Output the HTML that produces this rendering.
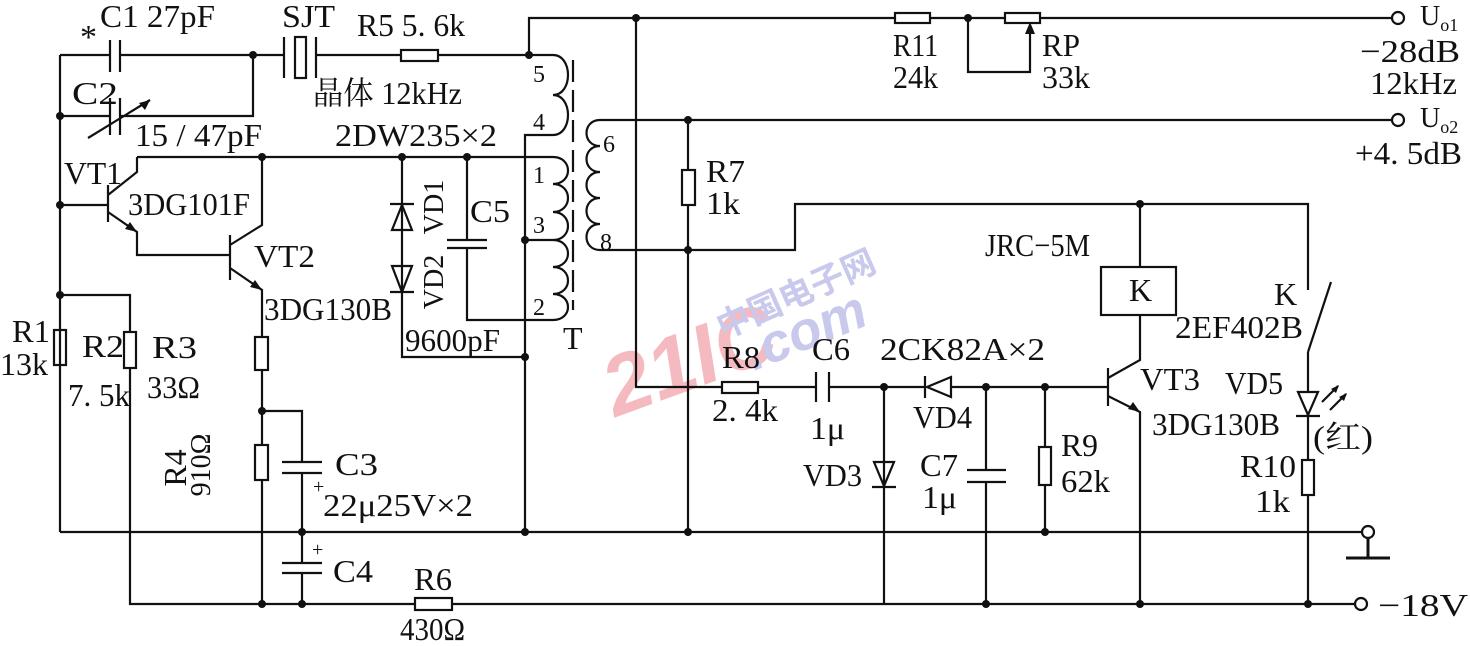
<!DOCTYPE html>
<html><head><meta charset="utf-8"><style>
html,body{margin:0;padding:0;background:#fff;}
svg{display:block;}
text{font-family:"Liberation Serif","Noto Serif CJK SC",serif;font-size:32px;fill:#111;}
</style></head><body>
<svg width="1470" height="646" viewBox="0 0 1470 646" xmlns="http://www.w3.org/2000/svg">
<rect width="1470" height="646" fill="#fff"/>
<g opacity="0.75">
<text x="598" y="402" transform="rotate(-20 650 360)" style="font-family:'Liberation Sans',sans-serif;font-size:84px;font-weight:bold;fill:#f2a4ac;font-style:italic">21IC</text>
<text x="708" y="312" transform="rotate(-24 780 290)" style="font-family:'Noto Sans CJK SC',sans-serif;font-size:34px;font-weight:bold;fill:#b6b8e6">中国电子网</text>
<text x="738" y="350" transform="rotate(-22 800 320)" style="font-family:'Liberation Sans',sans-serif;font-size:54px;font-weight:bold;font-style:italic;fill:#b6b8e6">.com</text>
</g>
<g stroke="#111" stroke-width="2.2" fill="none">
<path d="M60 55 V532 M60 55 H110 M120 55 H284 M316 55 H401 M438 55 H529 V18 H895 M930 18 H1005 M1040 18 H1392"/>
<path d="M110 40 V72 M120 40 V72"/>
<path d="M60 116 H110 M120 116 H253 V55 M110 98 V135 M120 98 V135 M88 138 L150 100"/>
<path d="M284 37 V78 M316 37 V78"/><rect x="295" y="37" width="11" height="41"/>
<rect x="401" y="50" width="37" height="11"/>
<rect x="895" y="13" width="35" height="10"/><rect x="1005" y="13" width="35" height="10"/>
<path d="M968 18 V72 H1030 V28"/>
<path d="M529 55 H553 c20 0 20 40 0 40 c20 0 20 40 0 40 H525 V532"/>
<path d="M573 60 V310" stroke-dasharray="22 8"/>
<path d="M137 157 H553 c20 0 20 27 0 27 c20 0 20 28 0 28 c20 0 20 28 0 28 c20 0 20 27 0 27 c20 0 20 27 0 27 c20 0 20 26 0 26 H467 V248 M467 240 V157"/>
<path d="M447 240 H487 M447 248 H487"/>
<path d="M525 240 H553"/>
<path d="M1392 120 H600 c-18 0 -18 26 0 26 c-18 0 -18 26 0 26 c-18 0 -18 26 0 26 c-18 0 -18 26 0 26 c-18 0 -18 26 0 26 H795 V204 H1308 V290 M1308 352 V604 M1308 352 L1331 282"/>
<path d="M108 185 V222 M60 205 H108 M108 195 L137 172 V157 M108 212 L137 232 V255 H230"/>
<path d="M230 235 V280 M230 245 L262 225 V157 M230 268 L262 290 V337 M262 370 V445 M262 480 V604 M262 411 H302 V462 M302 473 V563 M302 573 V604"/>
<rect x="255" y="337" width="13" height="33"/><rect x="255" y="445" width="13" height="35"/>
<path d="M282 462 H322 M282 473 H322 M282 563 H322 M282 573 H322"/>
<path d="M60 295 H130 V332 M130 368 V604 H415 M452 604 H1355"/>
<rect x="54" y="330" width="12" height="35"/><rect x="124" y="332" width="12" height="36"/>
<rect x="415" y="598" width="37" height="12"/>
<path d="M402 157 V357 H525"/>
<path d="M60 532 H1362"/>
<path d="M636 18 V387 H722 M758 387 H816 M829 387 H925 M951 387 H1108"/>
<path d="M688 120 V170 M688 205 V532"/><rect x="682" y="170" width="13" height="35"/>
<rect x="722" y="382" width="36" height="11"/>
<path d="M816 372 V402 M829 372 V402"/>
<path d="M884 387 V604 M986 387 V470 M986 482 V604 M967 470 H1006 M967 482 H1006 M1045 387 V447 M1045 485 V532"/>
<rect x="1039" y="447" width="12" height="38"/>
<rect x="1101" y="267" width="75" height="48"/>
<path d="M1140 204 V267 M1140 315 V360 L1108 378 M1108 368 V406 M1108 396 L1140 412 V604"/>
<rect x="1302" y="460" width="12" height="35" fill="#fff"/>
<circle cx="1398" cy="18" r="6" fill="#fff"/><circle cx="1398" cy="120" r="6" fill="#fff"/>
<circle cx="1368" cy="532" r="6" fill="#fff"/><circle cx="1361" cy="604" r="6" fill="#fff"/>
<path d="M1368 538 V557 M1346 558 H1390" stroke-width="3"/>
</g>
<g fill="none" stroke="#111" stroke-width="2.2">
<path d="M392 230 L412 230 L402 205 Z M390 204 H414"/>
<path d="M392 266 L412 266 L402 292 Z M390 292 H414"/>
<path d="M874 462 L894 462 L884 486 Z M872 487 H896"/>
<path d="M951 377 L951 397 L927 387 Z M925 376 V398"/>
<path d="M1298 392 L1318 392 L1308 415 Z M1296 416 H1320" fill="#fff"/>
<path d="M1322 402 L1338 386 M1330 410 L1346 394"/>
</g>
<g fill="#111">
<path d="M1030 22 L1025 34 L1035 34 Z"/>
<path d="M150 100 L139 103 L145 110 Z"/>
<path d="M137 232 L125 229 L130 222 Z M262 290 L250 287 L255 280 Z M1140 412 L1128 409 L1133 402 Z"/>
<path d="M1339 385 L1331 389 L1336 393 Z M1347 393 L1339 397 L1344 401 Z"/>
<circle cx="253" cy="55" r="4"/><circle cx="60" cy="116" r="4"/><circle cx="529" cy="55" r="4"/>
<circle cx="60" cy="205" r="4"/><circle cx="60" cy="295" r="4"/><circle cx="262" cy="157" r="4"/>
<circle cx="402" cy="157" r="4"/><circle cx="467" cy="157" r="4"/><circle cx="525" cy="240" r="4"/>
<circle cx="525" cy="357" r="4"/><circle cx="525" cy="532" r="4"/><circle cx="262" cy="411" r="4"/>
<circle cx="302" cy="532" r="4"/><circle cx="262" cy="604" r="4"/><circle cx="302" cy="604" r="4"/>
<circle cx="636" cy="18" r="4"/><circle cx="968" cy="18" r="4"/><circle cx="688" cy="120" r="4"/>
<circle cx="688" cy="250" r="4"/><circle cx="688" cy="532" r="4"/><circle cx="1140" cy="204" r="4"/>
<circle cx="884" cy="387" r="4"/><circle cx="986" cy="387" r="4"/><circle cx="1045" cy="387" r="4"/>
<circle cx="1045" cy="532" r="4"/><circle cx="986" cy="604" r="4"/><circle cx="1140" cy="604" r="4"/>
<circle cx="1308" cy="604" r="4"/>
</g>
<text x="80" y="48" style="font-size:34px">*</text>
<text x="100" y="27" textLength="115" lengthAdjust="spacingAndGlyphs">C1 27pF</text>
<text x="282" y="27" textLength="53" lengthAdjust="spacingAndGlyphs">SJT</text>
<text x="357" y="36" textLength="108" lengthAdjust="spacingAndGlyphs">R5 5. 6k</text>
<text x="72" y="104" textLength="46" lengthAdjust="spacingAndGlyphs">C2</text>
<text x="313" y="104" textLength="149" lengthAdjust="spacingAndGlyphs">晶体 12kHz</text>
<text x="135" y="146" textLength="127" lengthAdjust="spacingAndGlyphs">15 / 47pF</text>
<text x="335" y="146" textLength="162" lengthAdjust="spacingAndGlyphs">2DW235×2</text>
<text x="64" y="184" textLength="58" lengthAdjust="spacingAndGlyphs">VT1</text>
<text x="128" y="215" textLength="122" lengthAdjust="spacingAndGlyphs">3DG101F</text>
<text x="254" y="267" textLength="61" lengthAdjust="spacingAndGlyphs">VT2</text>
<text x="264" y="320" textLength="128" lengthAdjust="spacingAndGlyphs">3DG130B</text>
<text x="470" y="222" textLength="40" lengthAdjust="spacingAndGlyphs">C5</text>
<text x="405" y="351" textLength="95" lengthAdjust="spacingAndGlyphs">9600pF</text>
<text x="563" y="349">T</text>
<text x="533" y="82" style="font-size:24px">5</text>
<text x="533" y="130" style="font-size:24px">4</text>
<text x="533" y="183" style="font-size:24px">1</text>
<text x="533" y="233" style="font-size:24px">3</text>
<text x="533" y="315" style="font-size:24px">2</text>
<text x="603" y="152" style="font-size:24px">6</text>
<text x="600" y="250" style="font-size:24px">8</text>
<text transform="translate(443,207) rotate(-90)" text-anchor="middle" style="font-size:28px">VD1</text>
<text transform="translate(443,282) rotate(-90)" text-anchor="middle" style="font-size:28px">VD2</text>
<text x="12" y="342" textLength="38" lengthAdjust="spacingAndGlyphs">R1</text>
<text x="0" y="375" textLength="48" lengthAdjust="spacingAndGlyphs">13k</text>
<text x="82" y="357" textLength="42" lengthAdjust="spacingAndGlyphs">R2</text>
<text x="68" y="406" textLength="62" lengthAdjust="spacingAndGlyphs">7. 5k</text>
<text x="152" y="358" textLength="45" lengthAdjust="spacingAndGlyphs">R3</text>
<text x="147" y="398" textLength="53" lengthAdjust="spacingAndGlyphs">33Ω</text>
<text transform="translate(186,468) rotate(-90)" text-anchor="middle" style="font-size:32px">R4</text>
<text transform="translate(210,465) rotate(-90)" text-anchor="middle" style="font-size:28px">910Ω</text>
<text x="335" y="475" textLength="43" lengthAdjust="spacingAndGlyphs">C3</text>
<text x="313" y="493" style="font-size:20px">+</text>
<text x="323" y="516" textLength="150" lengthAdjust="spacingAndGlyphs">22μ25V×2</text>
<text x="312" y="556" style="font-size:20px">+</text>
<text x="333" y="582" textLength="40" lengthAdjust="spacingAndGlyphs">C4</text>
<text x="414" y="590" textLength="38" lengthAdjust="spacingAndGlyphs">R6</text>
<text x="400" y="640" textLength="65" lengthAdjust="spacingAndGlyphs">430Ω</text>
<text x="893" y="56" textLength="45" lengthAdjust="spacingAndGlyphs">R11</text>
<text x="893" y="88" textLength="45" lengthAdjust="spacingAndGlyphs">24k</text>
<text x="1042" y="56" textLength="38" lengthAdjust="spacingAndGlyphs">RP</text>
<text x="1042" y="88" textLength="48" lengthAdjust="spacingAndGlyphs">33k</text>
<text x="1420" y="25" style="font-size:28px">U<tspan dy="6" style="font-size:18px">o1</tspan></text>
<text x="1360" y="62" textLength="100" lengthAdjust="spacingAndGlyphs">−28dB</text>
<text x="1370" y="94" textLength="87" lengthAdjust="spacingAndGlyphs">12kHz</text>
<text x="1420" y="127" style="font-size:28px">U<tspan dy="6" style="font-size:18px">o2</tspan></text>
<text x="1355" y="164" textLength="107" lengthAdjust="spacingAndGlyphs">+4. 5dB</text>
<text x="706" y="182" textLength="39" lengthAdjust="spacingAndGlyphs">R7</text>
<text x="706" y="214" textLength="34" lengthAdjust="spacingAndGlyphs">1k</text>
<text x="985" y="256" textLength="105" lengthAdjust="spacingAndGlyphs">JRC−5M</text>
<text x="1129" y="301">K</text>
<text x="1274" y="305">K</text>
<text x="1175" y="338" textLength="128" lengthAdjust="spacingAndGlyphs">2EF402B</text>
<text x="722" y="368" textLength="38" lengthAdjust="spacingAndGlyphs">R8</text>
<text x="712" y="421" textLength="66" lengthAdjust="spacingAndGlyphs">2. 4k</text>
<text x="812" y="360" textLength="38" lengthAdjust="spacingAndGlyphs">C6</text>
<text x="810" y="439" textLength="35" lengthAdjust="spacingAndGlyphs">1μ</text>
<text x="880" y="360" textLength="165" lengthAdjust="spacingAndGlyphs">2CK82A×2</text>
<text x="913" y="428" textLength="59" lengthAdjust="spacingAndGlyphs">VD4</text>
<text x="803" y="486" textLength="59" lengthAdjust="spacingAndGlyphs">VD3</text>
<text x="920" y="476" textLength="38" lengthAdjust="spacingAndGlyphs">C7</text>
<text x="922" y="508" textLength="35" lengthAdjust="spacingAndGlyphs">1μ</text>
<text x="1061" y="456" textLength="37" lengthAdjust="spacingAndGlyphs">R9</text>
<text x="1061" y="492" textLength="49" lengthAdjust="spacingAndGlyphs">62k</text>
<text x="1140" y="390" textLength="60" lengthAdjust="spacingAndGlyphs">VT3</text>
<text x="1225" y="394" textLength="58" lengthAdjust="spacingAndGlyphs">VD5</text>
<text x="1152" y="435" textLength="128" lengthAdjust="spacingAndGlyphs">3DG130B</text>
<text x="1313" y="448" textLength="60" lengthAdjust="spacingAndGlyphs">(红)</text>
<text x="1240" y="477" textLength="56" lengthAdjust="spacingAndGlyphs">R10</text>
<text x="1255" y="512" textLength="35" lengthAdjust="spacingAndGlyphs">1k</text>
<text x="1378" y="616" textLength="90" lengthAdjust="spacingAndGlyphs">−18V</text>
</svg>
</body></html>
